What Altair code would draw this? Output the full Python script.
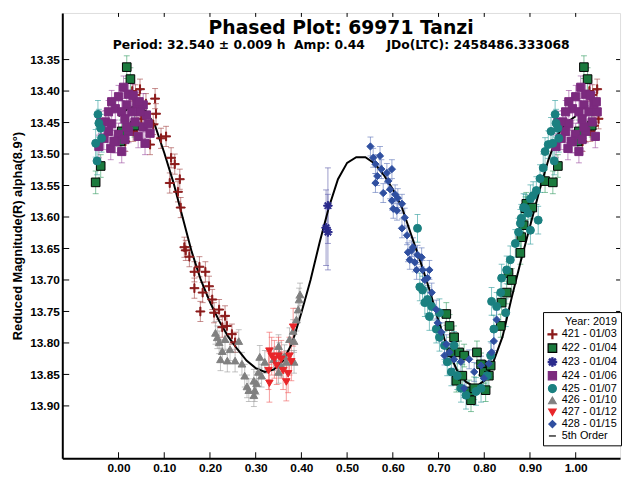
import altair as alt
import pandas as pd

series_names = ["421 - 01/03", "422 - 01/04", "423 - 01/04", "424 - 01/06",
                "425 - 01/07", "426 - 01/10", "427 - 01/12", "428 - 01/15"]
fit_name = "5th Order"

s421_phase = [0.015, 0.030, 0.032, 0.037, 0.040, 0.047, 0.050, 0.060, 0.069, 0.076, 0.080, 0.082,
              0.093, 0.104, 0.112, 0.115, 0.123, 0.130, 0.134, 0.136, 0.144, 0.147, 0.155, 0.166,
              0.166, 0.177, 0.179, 0.184, 0.190, 0.198, 0.205, 0.209, 0.220, 0.227, 0.233, 0.237,
              0.248, 0.255]
s421_mag = [13.480, 13.400, 13.464, 13.406, 13.455, 13.397, 13.444, 13.420, 13.485, 13.453, 13.412, 13.436,
            13.475, 13.472, 13.546, 13.506, 13.516, 13.560, 13.540, 13.585, 13.648, 13.653, 13.663, 13.687,
            13.713, 13.679, 13.750, 13.720, 13.687, 13.710, 13.731, 13.752, 13.747, 13.775, 13.757, 13.773,
            13.786, 13.799]

s422_phase = [0.004, 0.007, 0.018, 0.026, 0.035, 0.717, 0.724, 0.728, 0.734, 0.739, 0.745, 0.752,
              0.756, 0.767, 0.771, 0.778, 0.784, 0.793, 0.799, 0.803, 0.810, 0.814, 0.836, 0.838,
              0.849, 0.853, 0.860, 0.879, 0.881, 0.886, 0.890, 0.892, 0.905, 0.933, 0.950, 0.961]
s422_mag = [13.480, 13.464, 13.362, 13.381, 13.455, 13.754, 13.773, 13.815, 13.791, 13.860, 13.815, 13.852,
            13.820, 13.877, 13.891, 13.872, 13.815, 13.834, 13.846, 13.875, 13.852, 13.836, 13.773, 13.736,
            13.720, 13.689, 13.700, 13.657, 13.632, 13.613, 13.586, 13.579, 13.585, 13.543, 13.545, 13.519]

s423_phase = [0.458, 0.454, 0.458]
s423_mag = [13.582, 13.617, 13.624]

s424_phase = [0.000, 0.011, 0.022, 0.032, 0.985, 0.993, 0.018, 0.040, 0.054, 0.061, 0.047, 0.029,
              0.007, 0.978, 0.972, 0.985, 0.014, 0.036, 0.054, 0.065, 0.069, 0.978, 0.000, 0.022,
              0.043, 0.993, 0.014, 0.058, 0.983, 0.007, 0.957, 0.018, 0.968, 0.961, 0.990, 0.045]
s424_mag = [13.409, 13.394, 13.405, 13.407, 13.417, 13.428, 13.422, 13.420, 13.422, 13.438, 13.433, 13.433,
            13.433, 13.433, 13.449, 13.452, 13.444, 13.449, 13.457, 13.452, 13.467, 13.464, 13.469, 13.464,
            13.472, 13.480, 13.477, 13.483, 13.491, 13.496, 13.488, 13.457, 13.475, 13.450, 13.480, 13.417]

s425_phase = [0.654, 0.659, 0.665, 0.670, 0.676, 0.680, 0.685, 0.695, 0.702, 0.702, 0.713, 0.719,
              0.728, 0.734, 0.741, 0.749, 0.760, 0.782, 0.793, 0.806, 0.814, 0.816, 0.821, 0.827,
              0.836, 0.838, 0.847, 0.849, 0.857, 0.868, 0.875, 0.879, 0.881, 0.886, 0.890, 0.896,
              0.901, 0.901, 0.907, 0.914, 0.918, 0.922, 0.929, 0.933, 0.940, 0.946, 0.950, 0.955,
              0.957, 0.953, 0.961, 0.963]
s425_mag = [13.618, 13.711, 13.716, 13.736, 13.731, 13.758, 13.742, 13.778, 13.791, 13.752, 13.804, 13.830,
            13.846, 13.804, 13.852, 13.872, 13.883, 13.877, 13.872, 13.852, 13.820, 13.734, 13.778, 13.742,
            13.720, 13.697, 13.752, 13.684, 13.668, 13.642, 13.624, 13.610, 13.602, 13.585, 13.586, 13.594,
            13.571, 13.621, 13.566, 13.558, 13.605, 13.539, 13.522, 13.496, 13.485, 13.464, 13.483, 13.437,
            13.451, 13.511, 13.459, 13.475]

s426_phase = [0.212, 0.216, 0.220, 0.223, 0.227, 0.233, 0.238, 0.244, 0.255, 0.263, 0.270, 0.276,
              0.281, 0.285, 0.296, 0.296, 0.298, 0.302, 0.306, 0.309, 0.313, 0.320, 0.339, 0.350,
              0.350, 0.352, 0.356, 0.363, 0.367, 0.374, 0.382, 0.384, 0.384, 0.389, 0.393, 0.395,
              0.397]
s426_mag = [13.784, 13.791, 13.799, 13.826, 13.813, 13.794, 13.828, 13.810, 13.828, 13.797, 13.833, 13.852,
            13.869, 13.875, 13.860, 13.883, 13.875, 13.864, 13.846, 13.822, 13.852, 13.830, 13.826, 13.805,
            13.846, 13.817, 13.836, 13.821, 13.830, 13.794, 13.781, 13.797, 13.830, 13.763, 13.747, 13.731,
            13.723]

s427_phase = [0.328, 0.330, 0.330, 0.335, 0.341, 0.346, 0.350, 0.356, 0.360, 0.367, 0.371, 0.374,
              0.378, 0.382]
s427_mag = [13.844, 13.813, 13.864, 13.821, 13.826, 13.836, 13.821, 13.826, 13.844, 13.862, 13.849, 13.821,
            13.830, 13.775]

s428_phase = [0.551, 0.557, 0.562, 0.562, 0.566, 0.572, 0.575, 0.579, 0.587, 0.590, 0.594, 0.598,
              0.598, 0.601, 0.605, 0.609, 0.611, 0.620, 0.620, 0.626, 0.631, 0.633, 0.637, 0.641,
              0.644, 0.648, 0.652, 0.654, 0.663, 0.665, 0.670, 0.676, 0.680, 0.685, 0.695, 0.698,
              0.706, 0.713, 0.717, 0.724, 0.734, 0.749, 0.756, 0.767, 0.778, 0.793, 0.799, 0.810,
              0.816, 0.821, 0.827]
s428_mag = [13.488, 13.506, 13.516, 13.546, 13.535, 13.503, 13.524, 13.562, 13.530, 13.543, 13.556, 13.524,
            13.574, 13.587, 13.564, 13.590, 13.570, 13.579, 13.618, 13.601, 13.629, 13.656, 13.668, 13.653,
            13.648, 13.672, 13.684, 13.660, 13.664, 13.684, 13.700, 13.697, 13.684, 13.720, 13.747, 13.768,
            13.783, 13.820, 13.802, 13.815, 13.826, 13.830, 13.872, 13.826, 13.846, 13.836, 13.856, 13.833,
            13.815, 13.797, 13.763]

series_errors = [0.016, 0.018, 0.06, 0.018, 0.022, 0.018, 0.03, 0.015]

fit_phase = [0.00, 0.02, 0.04, 0.06, 0.08, 0.10, 0.12, 0.14, 0.16, 0.18, 0.20, 0.22, 0.24, 0.26,
             0.28, 0.30, 0.32, 0.34, 0.36, 0.38, 0.40, 0.42, 0.44, 0.46, 0.48, 0.50, 0.52, 0.54,
             0.56, 0.58, 0.60, 0.62, 0.64, 0.66, 0.68, 0.70, 0.72, 0.74, 0.76, 0.78, 0.80, 0.82,
             0.84, 0.86, 0.88, 0.90, 0.92, 0.94, 0.96, 0.98, 1.00]
fit_mag = [13.440, 13.428, 13.424, 13.432, 13.455, 13.498, 13.545, 13.600, 13.655, 13.700, 13.735, 13.765,
           13.790, 13.810, 13.828, 13.840, 13.846, 13.842, 13.828, 13.800, 13.752, 13.700, 13.640, 13.585,
           13.540, 13.514, 13.505, 13.505, 13.515, 13.533, 13.556, 13.585, 13.628, 13.670, 13.715, 13.765,
           13.810, 13.843, 13.862, 13.870, 13.860, 13.830, 13.790, 13.728, 13.670, 13.615, 13.560, 13.510,
           13.470, 13.450, 13.440]

x_ticks = [0.0, 0.1, 0.2, 0.3, 0.4, 0.5, 0.6, 0.7, 0.8, 0.9, 1.0]
y_ticks = [13.35, 13.40, 13.45, 13.50, 13.55, 13.60, 13.65, 13.70, 13.75, 13.80, 13.85, 13.90]

fill_colors = ["#8B1A1A", "#1B7A3E", "#2B2B8C", "#7B2A7E", "#1A8080", "#808080", "#E8262A", "#2F4FA0", "#000000"]
stroke_colors = ["#8B1A1A", "#000000", "#2B2B8C", "#7B2A7E", "#1A8080", "#808080", "#E8262A", "#2F4FA0", "#000000"]
err_colors = ["#A04040", "#2E9A5E", "#5A5AA8", "#9A4A9E", "#2A9A9A", "#9A9A9A", "#F05A5A", "#5A72B8"]

plus_path = "M-1,-0.12L1,-0.12L1,0.12L-1,0.12Z M-0.12,-1L0.12,-1L0.12,1L-0.12,1Z"
star_path = ("M-0.15,-1L0.15,-1L0.15,1L-0.15,1Z M-1,-0.15L1,-0.15L1,0.15L-1,0.15Z "
             "M-0.604,-0.816L0.816,0.604L0.604,0.816L-0.816,-0.604Z "
             "M0.604,-0.816L0.816,-0.604L-0.604,0.816L-0.816,0.604Z")
shapes = [plus_path, "square", star_path, "square", "circle", "triangle-up", "triangle-down", "diamond", "stroke"]
sizes = [80, 50, 70, 50, 32, 38, 38, 36, 80]

phases = [s421_phase, s422_phase, s423_phase, s424_phase, s425_phase, s426_phase, s427_phase, s428_phase]
mags = [s421_mag, s422_mag, s423_mag, s424_mag, s425_mag, s426_mag, s427_mag, s428_mag]

rows = []
for name, ph, mg, err in zip(series_names, phases, mags, series_errors):
    for p, m in zip(ph, mg):
        copies = [p]
        if p <= 0.05:
            copies.append(p + 1)
        if p >= 0.95:
            copies.append(p - 1)
        for c in copies:
            rows.append({"series": name, "phase": c, "mag": m, "lo": m - err, "hi": m + err})
df = pd.DataFrame(rows)
fit_df = pd.DataFrame({"phase": fit_phase, "mag": fit_mag})
xt_df = pd.DataFrame({"v": x_ticks})
yt_df = pd.DataFrame({"v": y_ticks})

W, H = 565, 451
xdom = [-0.123, 1.097]
ydom = [13.276, 13.983]

xs = alt.Scale(domain=xdom, nice=False, zero=False)
ys = alt.Scale(domain=ydom, nice=False, zero=False, reverse=True)

all_names = series_names + [fit_name]
leg = alt.Legend(title="Year: 2019", orient="none", legendX=487, legendY=303,
                 padding=4, strokeColor="black", fillColor="white",
                 titleAnchor="end", titleFont="Liberation Sans", titleFontSize=11,
                 titleFontWeight="normal", titleColor="black",
                 labelFont="Liberation Sans", labelFontSize=11, labelColor="black",
                 rowPadding=-1, symbolStrokeWidth=1.2, labelOffset=4, titlePadding=2)

xaxis = alt.Axis(values=x_ticks, format=".2f", title=None, grid=False, tickSize=0,
                 labelFont="Liberation Sans", labelFontSize=12, labelFontWeight="bold",
                 labelColor="black", domainColor="black", domainWidth=2, labelPadding=4)
yaxis = alt.Axis(values=y_ticks, format=".2f", title="Reduced Magnitude(R) alpha(8.9°)", grid=False,
                 tickSize=0, labelFont="Liberation Sans", labelFontSize=12, labelFontWeight="bold",
                 labelColor="black", domainColor="black", domainWidth=2, labelPadding=3,
                 titleFont="Liberation Sans", titleFontSize=13, titleFontWeight="bold",
                 titleColor="black", titlePadding=5)

base = alt.Chart(df)
ecol = alt.Color("series:N", scale=alt.Scale(domain=series_names, range=err_colors), legend=None)

bars = base.mark_rule(strokeWidth=1, opacity=0.6).encode(
    x=alt.X("phase:Q", scale=xs, axis=xaxis),
    y=alt.Y("lo:Q", scale=ys, axis=yaxis),
    y2="hi:Q",
    color=ecol,
)
cap_lo = base.mark_tick(orient="horizontal", size=6, thickness=1, opacity=0.6).encode(
    x="phase:Q", y="lo:Q", color=ecol)
cap_hi = base.mark_tick(orient="horizontal", size=6, thickness=1, opacity=0.6).encode(
    x="phase:Q", y="hi:Q", color=ecol)

fit = alt.Chart(fit_df).mark_line(color="black", strokeWidth=2).encode(x="phase:Q", y="mag:Q")

points = base.mark_point(filled=True, opacity=1, strokeWidth=1, strokeOpacity=1).encode(
    x="phase:Q", y="mag:Q",
    fill=alt.Fill("series:N", scale=alt.Scale(domain=all_names, range=fill_colors), legend=leg),
    stroke=alt.Stroke("series:N", scale=alt.Scale(domain=all_names, range=stroke_colors), legend=leg),
    shape=alt.Shape("series:N", scale=alt.Scale(domain=all_names, range=shapes), legend=leg),
    size=alt.Size("series:N", scale=alt.Scale(domain=all_names, range=sizes), legend=leg),
)

tick_left = alt.Chart(yt_df).mark_rule(color="black", strokeWidth=1).encode(
    y="v:Q", x=alt.value(0), x2=alt.value(7))
tick_right = alt.Chart(yt_df).mark_rule(color="black", strokeWidth=1).encode(
    y="v:Q", x=alt.value(W - 4), x2=alt.value(W))
tick_bottom = alt.Chart(xt_df).mark_rule(color="black", strokeWidth=1).encode(
    x="v:Q", y=alt.value(H - 6), y2=alt.value(H))
tick_top = alt.Chart(xt_df).mark_rule(color="black", strokeWidth=1).encode(
    x="v:Q", y=alt.value(0), y2=alt.value(4))

title = alt.TitleParams(
    text="Phased Plot: 69971 Tanzi",
    subtitle="Period: 32.540 ± 0.009 h\u00a0\u00a0Amp: 0.44\u00a0\u00a0\u00a0\u00a0\u00a0JDo(LTC): 2458486.333068",
    font="DejaVu Sans", fontSize=19, fontWeight="bold", color="black",
    subtitleFont="DejaVu Sans", subtitleFontSize=12.5, subtitleFontWeight="bold", subtitleColor="black",
    anchor="middle", offset=-40, subtitlePadding=2,
)

chart = alt.layer(bars, cap_lo, cap_hi, fit, points, tick_left, tick_right, tick_bottom, tick_top).properties(
    width=W, height=H, title=title,
    autosize=alt.AutoSizeParams(type="none"),
    padding={"left": 55, "top": 2, "right": 3, "bottom": 14},
).configure_view(stroke=None).configure(background="white")

chart.save("out.html", embed_options={"renderer": "svg", "actions": False})
